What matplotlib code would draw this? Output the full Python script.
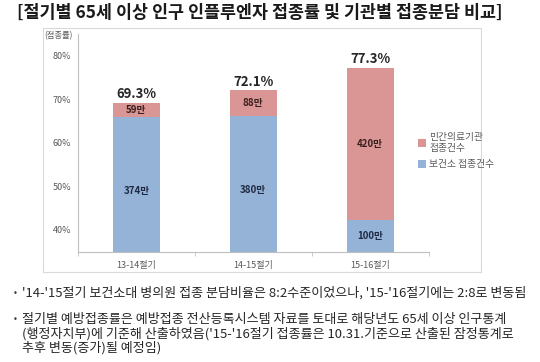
import matplotlib.pyplot as plt
from matplotlib.patches import Rectangle

plt.rcParams['font.family'] = ['Noto Sans CJK KR', 'DejaVu Sans']

# data
seasons = ['13-14절기', '14-15절기', '15-16절기']
total_rate = [69.3, 72.1, 77.3]          # 접종률 (%)
public_level = [65.9, 66.2, 42.4]        # top of 보건소 segment (%)
public_count = ['374만', '380만', '100만']
private_count = ['59만', '88만', '420만']
yticks = [40, 50, 60, 70, 80]

red = '#D99694'
blue = '#95B3D7'
gray = '#595959'

fig = plt.figure(figsize=(5.4, 3.62), dpi=100)
ax = fig.add_axes([0.1444, 0.3047, 0.6496, 0.6008])

x = range(len(seasons))
private_part = [t - p for t, p in zip(total_rate, public_level)]
ax.bar(x, public_level, width=0.4, color=blue, label='보건소 접종건수')
ax.bar(x, private_part, width=0.4, bottom=public_level, color=red,
       label='민간의료기관\n접종건수')

ymin, ymax = 35, 85
ax.set_ylim(ymin, ymax)
ax.set_xlim(-0.5, 2.5)

# labels on bars
for i in x:
    ax.text(i, total_rate[i] + 0.4, f'{total_rate[i]}%', ha='center', va='bottom',
            fontsize=9.5, fontweight='bold', color='#262626')
    ax.text(i, (total_rate[i] + public_level[i]) / 2, private_count[i],
            ha='center', va='center', fontsize=7, fontweight='bold', color='#3a1f1f')
    ax.text(i, (ymin + public_level[i]) / 2 - 1.5 * (i < 2), public_count[i],
            ha='center', va='center', fontsize=7, fontweight='bold', color='#1f2a44')

ax.set_yticks(yticks)
ax.set_yticklabels([f'{v}%' for v in yticks], fontsize=6.5, color=gray)
ax.tick_params(axis='y', length=0, pad=5)
ax.set_xticks(list(x))
ax.set_xticklabels(seasons, fontsize=6.5, color=gray)
ax.tick_params(axis='x', length=0, pad=7)
ax.set_xticks([-0.5, 0.5, 1.5, 2.5], minor=True)
ax.tick_params(axis='x', which='minor', length=3, color='#bfbfbf')

for s in ['top', 'right']:
    ax.spines[s].set_visible(False)
for s in ['left', 'bottom']:
    ax.spines[s].set_color('#bfbfbf')
    ax.spines[s].set_linewidth(0.8)

fig.text(44 / 540, 1 - 36 / 362, '(접종률)', fontsize=6, color=gray, va='center')

handles, labels = ax.get_legend_handles_labels()
fig.legend(handles[::-1], labels[::-1], loc='upper left',
           bbox_to_anchor=(0.766, 1 - 128 / 362), frameon=False, fontsize=7,
           labelcolor=gray, handlelength=0.9, handleheight=0.9,
           handletextpad=0.3, labelspacing=0.6, borderaxespad=0)

# chart border
fig.add_artist(Rectangle((42.7 / 540, 1 - 272 / 362), (481 - 42.7) / 540,
                         (272 - 28) / 362, transform=fig.transFigure,
                         fill=False, edgecolor='#d9d9d9', linewidth=0.8))

fig.text(17 / 540, 1 - 13 / 362,
         '[절기별 65세 이상 인구 인플루엔자 접종률 및 기관별 접종분담 비교]',
         fontsize=12.5, fontweight='bold', color='#1a1a1a', va='center')

notes = [
    (293, True, "'14-'15절기 보건소대 병의원 접종 분담비율은 8:2수준이었으나, '15-'16절기에는 2:8로 변동됨"),
    (320, True, "절기별 예방접종률은 예방접종 전산등록시스템 자료를 토대로 해당년도 65세 이상 인구통계"),
    (334, False, "(행정자치부)에 기준해 산출하였음('15-'16절기 접종률은 10.31.기준으로 산출된 잠정통계로"),
    (348, False, "추후 변동(증가)될 예정임)"),
]
for ny, bullet, txt in notes:
    if bullet:
        fig.text(13 / 540, 1 - ny / 362, '•', fontsize=6, color='#404040',
                 va='center', family=['DejaVu Sans'])
    fig.text(22 / 540, 1 - ny / 362, txt, fontsize=9.4, color='#262626', va='center')

fig.savefig('out.png', dpi=100)
